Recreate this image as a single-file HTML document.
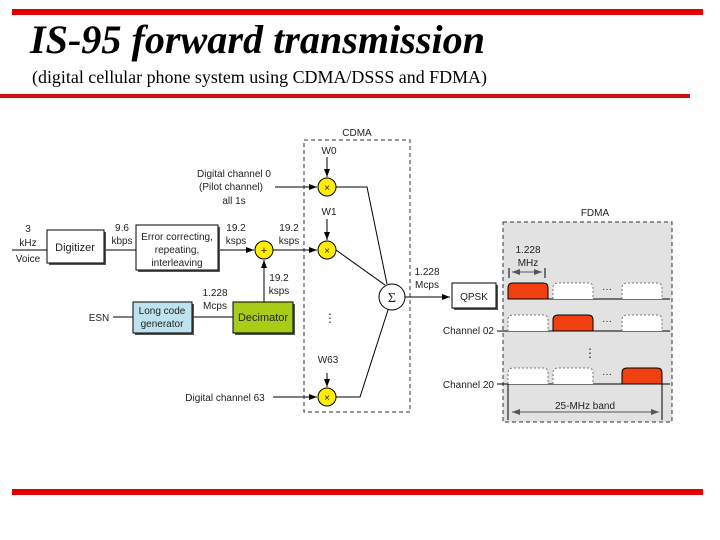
<!DOCTYPE html>
<html><head><style>body{margin:0;background:#fff}svg{display:block}</style></head><body>
<svg width="720" height="540" viewBox="0 0 720 540" xmlns="http://www.w3.org/2000/svg" font-family="Liberation Sans, sans-serif">
<defs><marker id="a" markerWidth="8" markerHeight="6" refX="8" refY="3" orient="auto"><path d="M0,0 L8,3 L0,6 z" fill="#000"/></marker>
<marker id="b" markerWidth="8" markerHeight="6" refX="0" refY="3" orient="auto"><path d="M8,0 L0,3 L8,6 z" fill="#555"/></marker>
<marker id="c" markerWidth="8" markerHeight="6" refX="8" refY="3" orient="auto"><path d="M0,0 L8,3 L0,6 z" fill="#555"/></marker></defs>
<rect x="12" y="9" width="691" height="6" fill="#e00000"/>
<rect x="0" y="94" width="690" height="4" fill="#d01010"/>
<rect x="12" y="489" width="691" height="6" fill="#e00000"/>
<text x="30" y="53" font-family="Liberation Serif, serif" font-weight="bold" font-style="italic" font-size="40" textLength="455" lengthAdjust="spacingAndGlyphs">IS-95 forward transmission</text>
<text x="32" y="83" font-family="Liberation Serif, serif" font-size="18" textLength="455" lengthAdjust="spacingAndGlyphs">(digital cellular phone system using CDMA/DSSS and FDMA)</text>
<g font-size="10" fill="#222" stroke="none">
<rect x="304" y="140" width="106" height="272" fill="none" stroke="#333" stroke-dasharray="4,3"/>
<text x="357" y="136" text-anchor="middle">CDMA</text>
<rect x="503" y="222" width="169" height="200" fill="#e2e2e2" stroke="#333" stroke-dasharray="4,3"/>
<text x="595" y="216" text-anchor="middle">FDMA</text>
<g stroke="#000" fill="none">
<line x1="12" y1="250" x2="47" y2="250"/>
<line x1="104" y1="250" x2="136" y2="250"/>
<line x1="218" y1="250" x2="254" y2="250" marker-end="url(#a)"/>
<line x1="273" y1="250" x2="317" y2="250" marker-end="url(#a)"/>
<line x1="264" y1="302" x2="264" y2="260" marker-end="url(#a)"/>
<line x1="113" y1="317" x2="133" y2="317"/>
<line x1="192" y1="317" x2="233" y2="317"/>
<line x1="275" y1="187" x2="317" y2="187" marker-end="url(#a)"/>
<line x1="273" y1="397" x2="317" y2="397" marker-end="url(#a)"/>
<line x1="327" y1="157" x2="327" y2="177" marker-end="url(#a)"/>
<line x1="327" y1="219" x2="327" y2="240" marker-end="url(#a)"/>
<line x1="327" y1="373" x2="327" y2="387" marker-end="url(#a)"/>
<polyline points="336,187 367,187 387,284"/>
<line x1="336" y1="250" x2="385" y2="285"/>
<polyline points="336,397 360,397 388,310"/>
<line x1="405" y1="297" x2="450" y2="297" marker-end="url(#a)"/>
</g>
<rect x="49" y="232" width="57" height="33" fill="#555"/>
<rect x="47" y="230" width="57" height="33" fill="#fff" stroke="#000"/>
<text x="75" y="251" text-anchor="middle" font-size="11">Digitizer</text>
<rect x="138" y="227" width="82" height="45" fill="#555"/>
<rect x="136" y="225" width="82" height="45" fill="#fff" stroke="#000"/>
<text x="177" y="240" text-anchor="middle">Error correcting,</text>
<text x="177" y="253" text-anchor="middle">repeating,</text>
<text x="177" y="266" text-anchor="middle">interleaving</text>
<rect x="135" y="304" width="59" height="31" fill="#555"/>
<rect x="133" y="302" width="59" height="31" fill="#bfe3ee" stroke="#000"/>
<text x="162" y="314" text-anchor="middle">Long code</text>
<text x="162" y="327" text-anchor="middle">generator</text>
<rect x="235" y="304" width="60" height="31" fill="#555"/>
<rect x="233" y="302" width="60" height="31" fill="#a9cc17" stroke="#000"/>
<text x="263" y="321" text-anchor="middle" font-size="11">Decimator</text>
<rect x="454" y="285" width="44" height="25" fill="#555"/>
<rect x="452" y="283" width="44" height="25" fill="#fff" stroke="#000"/>
<text x="474" y="300" text-anchor="middle">QPSK</text>
<g stroke="#000" fill="#ffec00">
<circle cx="264" cy="250" r="9"/><circle cx="327" cy="187" r="9"/><circle cx="327" cy="250" r="9"/><circle cx="327" cy="397" r="9"/>
<circle cx="392" cy="297" r="13" fill="#fff"/></g>
<text x="264" y="254" text-anchor="middle" font-size="11">+</text>
<text x="327" y="191" text-anchor="middle">×</text><text x="327" y="254" text-anchor="middle">×</text><text x="327" y="401" text-anchor="middle">×</text>
<text x="392" y="302" text-anchor="middle" font-family="Liberation Serif, serif" font-size="14">Σ</text>
<text x="330" y="322" text-anchor="middle" font-size="12">⋮</text>
<text x="28" y="232" text-anchor="middle">3</text><text x="28" y="246" text-anchor="middle">kHz</text><text x="28" y="262" text-anchor="middle">Voice</text>
<text x="122" y="231" text-anchor="middle">9.6</text><text x="122" y="244" text-anchor="middle">kbps</text>
<text x="236" y="231" text-anchor="middle">19.2</text><text x="236" y="244" text-anchor="middle">ksps</text>
<text x="289" y="231" text-anchor="middle">19.2</text><text x="289" y="244" text-anchor="middle">ksps</text>
<text x="279" y="281" text-anchor="middle">19.2</text><text x="279" y="294" text-anchor="middle">ksps</text>
<text x="215" y="296" text-anchor="middle">1.228</text><text x="215" y="309" text-anchor="middle">Mcps</text>
<text x="99" y="321" text-anchor="middle">ESN</text>
<text x="234" y="177" text-anchor="middle">Digital channel 0</text>
<text x="231" y="190" text-anchor="middle">(Pilot channel)</text>
<text x="234" y="204" text-anchor="middle">all 1s</text>
<text x="225" y="401" text-anchor="middle">Digital channel 63</text>
<text x="329" y="154" text-anchor="middle">W0</text>
<text x="329" y="215" text-anchor="middle">W1</text>
<text x="328" y="363" text-anchor="middle">W63</text>
<text x="427" y="275" text-anchor="middle">1.228</text><text x="427" y="288" text-anchor="middle">Mcps</text>
<g stroke="#000" fill="none">
<line x1="508" y1="299" x2="670" y2="299"/>
<line x1="497" y1="331" x2="670" y2="331"/>
<line x1="497" y1="384" x2="670" y2="384"/>
<line x1="508" y1="384" x2="508" y2="420"/>
<line x1="662" y1="384" x2="662" y2="420"/>
<line x1="509" y1="268" x2="509" y2="278"/><line x1="545" y1="268" x2="545" y2="278"/>
</g>
<line x1="512" y1="272" x2="542" y2="272" stroke="#555" marker-start="url(#b)" marker-end="url(#c)"/>
<line x1="512" y1="412" x2="659" y2="412" stroke="#555" marker-start="url(#b)" marker-end="url(#c)"/>
<text x="585" y="409" text-anchor="middle">25-MHz band</text>
<text x="528" y="253" text-anchor="middle">1.228</text><text x="528" y="266" text-anchor="middle">MHz</text>
<text x="494" y="334" text-anchor="end">Channel 02</text>
<text x="494" y="388" text-anchor="end">Channel 20</text>
<g stroke="#000">
<path d="M508,299 V288 Q508,283 513,283 H543 Q548,283 548,288 V299 Z" fill="#f04010"/>
<path d="M553,331 V320 Q553,315 558,315 H588 Q593,315 593,320 V331 Z" fill="#f04010"/>
<path d="M622,384 V373 Q622,368 627,368 H657 Q662,368 662,373 V384 Z" fill="#f04010"/>
</g>
<g stroke="#777" stroke-dasharray="2,2" fill="#fff">
<path d="M553,299 V288 Q553,283 558,283 H588 Q593,283 593,288 V299"/>
<path d="M622,299 V288 Q622,283 627,283 H657 Q662,283 662,288 V299"/>
<path d="M508,331 V320 Q508,315 513,315 H543 Q548,315 548,320 V331"/>
<path d="M622,331 V320 Q622,315 627,315 H657 Q662,315 662,320 V331"/>
<path d="M508,384 V373 Q508,368 513,368 H543 Q548,368 548,373 V384"/>
<path d="M553,384 V373 Q553,368 558,368 H588 Q593,368 593,373 V384"/>
</g>
<text x="607" y="292" text-anchor="middle">···</text>
<text x="607" y="324" text-anchor="middle">···</text>
<text x="607" y="377" text-anchor="middle">···</text>
<text x="590" y="357" text-anchor="middle" font-size="12">⋮</text>
</g>
</svg>
</body></html>
